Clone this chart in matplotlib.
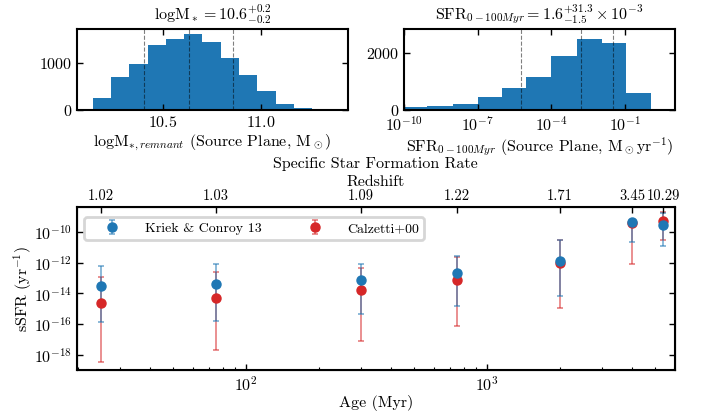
import numpy as np
import matplotlib
matplotlib.use("Agg")
import matplotlib.pyplot as plt
import matplotlib.ticker as mticker

plt.rcParams["font.family"] = "serif"
plt.rcParams["font.serif"] = ["cmr10"]
plt.rcParams["mathtext.fontset"] = "cm"
plt.rcParams["axes.formatter.use_mathtext"] = True
plt.rcParams["axes.unicode_minus"] = True

# Histogram stelárnej hmotnosti (okraje binov, počty)
MASS_EDGES = [10.048, 10.141, 10.234, 10.327, 10.421, 10.514, 10.607, 10.700,
              10.793, 10.886, 10.979, 11.073, 11.166, 11.259, 11.352, 11.445]
MASS_COUNTS = [28, 262, 688, 972, 1369, 1489, 1610, 1433, 1106, 738, 397, 120, 43, 21, 21]
MASS_PERCENTILES = [10.401, 10.630, 10.858]

# Histogram SFR (log10 okraje binov, počty)
SFR_LOG_EDGES = [-10.08, -9.05, -8.02, -7.0, -6.02, -5.02, -4.0, -2.95, -1.92, -0.93, 0.08, 1.06]
SFR_COUNTS = [117, 152, 211, 444, 760, 1135, 1883, 2456, 2327, 608, 23]
SFR_PERCENTILES = [5.8e-6, 1.6e-3, 3.29e-2]

# Špecifická miera tvorby hviezd vs. vek
AGES = [25, 75, 300, 750, 2000, 4000, 5400]
REDSHIFT_LABELS = ["1.02", "1.03", "1.09", "1.22", "1.71", "3.45", "10.29"]

KC_LOG = [-13.50, -13.36, -13.15, -12.68, -11.85, -9.36, -9.54]
KC_LOG_LO = [-15.87, -15.78, -15.34, -14.81, -14.15, -10.61, -10.87]
KC_LOG_HI = [-12.18, -12.09, -12.05, -11.52, -10.50, -9.20, -8.77]

CAL_LOG = [-14.63, -14.28, -13.78, -13.10, -12.00, -9.41, -9.26]
CAL_LOG_LO = [-18.46, -17.69, -17.11, -16.15, -14.92, -12.07, -10.52]
CAL_LOG_HI = [-12.90, -12.61, -12.33, -11.63, -10.50, -9.28, -8.70]


def style_axis(ax):
    for sp in ax.spines.values():
        sp.set_linewidth(1.5)
    ax.tick_params(which="both", direction="in", top=True, right=True,
                   labelsize=11.5)
    ax.tick_params(which="major", length=4.5, width=1.0)
    ax.tick_params(which="minor", length=2.5, width=0.8)


def errorbar_series(ax, med, lo, hi, color, label):
    y = 10 ** np.array(med)
    yerr = [y - 10 ** np.array(lo), 10 ** np.array(hi) - y]
    cont = ax.errorbar(AGES, y, yerr=yerr, fmt="o", color=color, ms=6.5,
                       elinewidth=1.2, capsize=2.2, capthick=1.2, label=label)
    for cap in cont[1]:
        cap.set_alpha(0.6)
    for col in cont[2]:
        col.set_alpha(0.6)
    return cont


fig = plt.figure(figsize=(7.06, 4.18), dpi=100)

# Ľavý histogram – hmotnosť
ax1 = fig.add_axes([0.1091, 0.7368, 0.3839, 0.1938])
ax1.hist(MASS_EDGES[:-1], bins=MASS_EDGES, weights=MASS_COUNTS, color="#1f77b4")
for p in MASS_PERCENTILES:
    ax1.axvline(p, color="k", ls="--", lw=0.8, alpha=0.5)
ax1.set_xlim(10.06, 11.443)
ax1.set_ylim(0, 1710)
ax1.xaxis.set_major_locator(mticker.MultipleLocator(0.5))
ax1.yaxis.set_major_locator(mticker.MultipleLocator(1000))
style_axis(ax1)
ax1.set_title(r"$\mathrm{logM}_* = 10.6^{+0.2}_{-0.2}$", fontsize=11.5, pad=7)
ax1.set_xlabel(r"logM$_{*,remnant}$ (Source Plane, M$_\odot$)", fontsize=11.5, labelpad=2)

# Pravý histogram – SFR
ax2 = fig.add_axes([0.5722, 0.7368, 0.3839, 0.1938])
sfr_edges = 10 ** np.array(SFR_LOG_EDGES)
ax2.hist(sfr_edges[:-1] * 1.01, bins=sfr_edges, weights=SFR_COUNTS, color="#1f77b4")
for p in SFR_PERCENTILES:
    ax2.axvline(p, color="k", ls="--", lw=0.8, alpha=0.5)
ax2.set_xscale("log")
ax2.set_xlim(1e-10, 10 ** 1.05)
ax2.set_ylim(0, 2820)
ax2.xaxis.set_major_locator(mticker.FixedLocator([1e-10, 1e-7, 1e-4, 1e-1]))
ax2.xaxis.set_minor_locator(mticker.NullLocator())
ax2.yaxis.set_major_locator(mticker.MultipleLocator(2000))
style_axis(ax2)
ax2.set_title(r"$\mathrm{SFR}_{0-100Myr} = 1.6^{+31.3}_{-1.5}\times 10^{-3}$",
              fontsize=11.5, pad=7)
ax2.set_xlabel(r"SFR$_{0-100Myr}$ (Source Plane, M$_\odot$yr$^{-1}$)",
               fontsize=11.5, labelpad=2)

# Spodný graf – sSFR vs. vek
ax3 = fig.add_axes([0.1091, 0.1148, 0.847, 0.39])
ax3.set_xscale("log")
ax3.set_yscale("log")
errorbar_series(ax3, CAL_LOG, CAL_LOG_LO, CAL_LOG_HI, "#d62728", "Calzetti+00")
errorbar_series(ax3, KC_LOG, KC_LOG_LO, KC_LOG_HI, "#1f77b4", "Kriek & Conroy 13")
ax3.set_xlim(19.9, 6030)
ax3.set_ylim(1e-19, 10 ** -8.35)
ax3.yaxis.set_major_locator(mticker.FixedLocator([1e-18, 1e-16, 1e-14, 1e-12, 1e-10]))
ax3.yaxis.set_minor_locator(mticker.NullLocator())
style_axis(ax3)
ax3.tick_params(top=False)
ax3.set_xlabel("Age (Myr)", fontsize=11.5, labelpad=1)
ax3.set_ylabel(r"sSFR (yr$^{-1}$)", fontsize=11.5, labelpad=0)

handles, labels = ax3.get_legend_handles_labels()
leg = ax3.legend(handles[::-1], labels[::-1], loc="upper left", ncol=2,
                 fontsize=10, handlelength=3.4, handletextpad=0.65,
                 columnspacing=2.1, borderpad=0.35, fancybox=True,
                 bbox_to_anchor=(0.0, 0.98))
leg.get_frame().set_edgecolor("#cccccc")
leg.get_frame().set_linewidth(2)

ax_top = ax3.twiny()
ax_top.set_xscale("log")
ax_top.set_xlim(ax3.get_xlim())
ax_top.xaxis.set_major_locator(mticker.FixedLocator(AGES))
ax_top.xaxis.set_major_formatter(mticker.FixedFormatter(REDSHIFT_LABELS))
ax_top.xaxis.set_minor_locator(mticker.NullLocator())
ax_top.tick_params(which="major", direction="in", length=4.5, width=1.0,
                   labelsize=10.5, pad=3)
ax_top.set_xlabel("Redshift", fontsize=11.5, labelpad=2)

# Nadpis spodného grafu nad popisom horných značiek
fig.text(0.532, 1 - 164 / 418, "Specific Star Formation Rate", fontsize=11.5,
         ha="center", va="center")

fig.savefig("out.png", dpi=100)
